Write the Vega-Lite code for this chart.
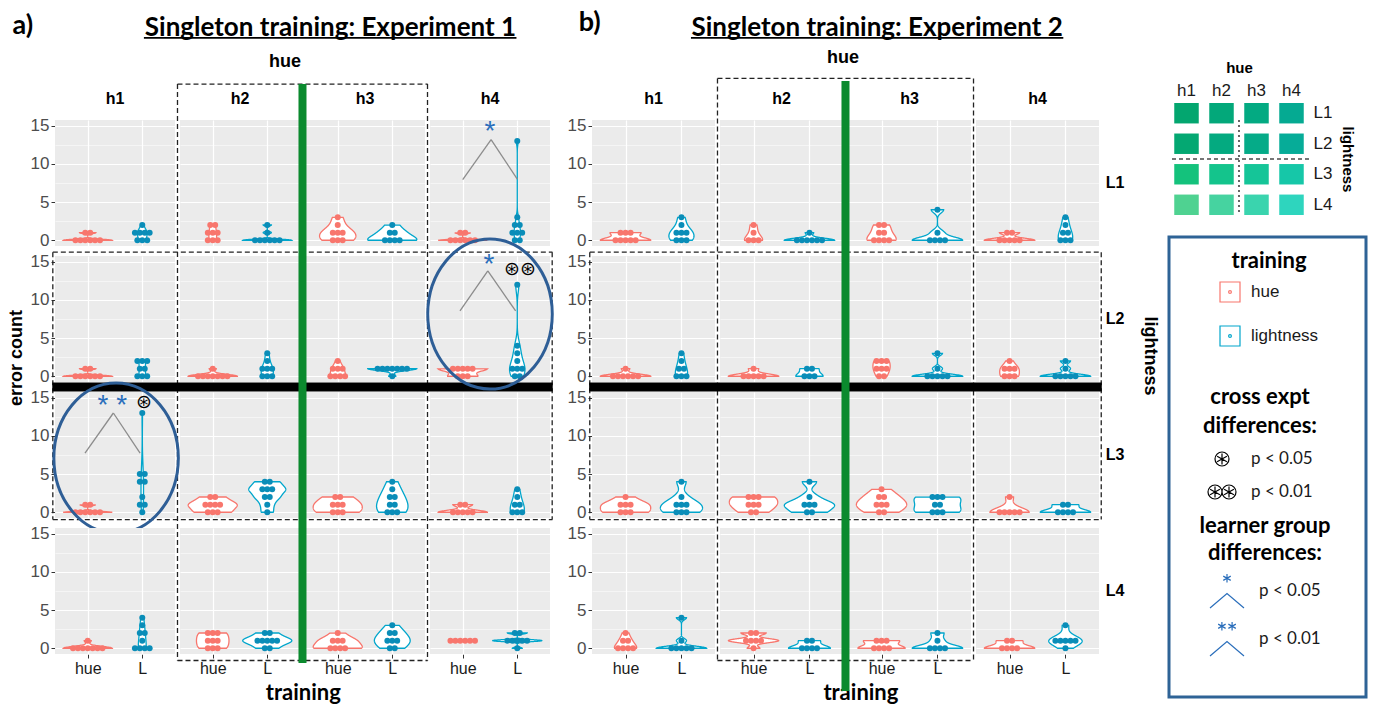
{
"$schema":"https://vega.github.io/schema/vega-lite/v6.json",
"background":"white",
"padding":{"left":7,"top":9,"right":0,"bottom":0},
"datasets":{"all":[
{"e":1,"h":"h1","l":"L1","t":"hue","v":0},{"e":1,"h":"h1","l":"L1","t":"hue","v":0},{"e":1,"h":"h1","l":"L1","t":"hue","v":0},{"e":1,"h":"h1","l":"L1","t":"hue","v":0},{"e":1,"h":"h1","l":"L1","t":"hue","v":0},{"e":1,"h":"h1","l":"L1","t":"hue","v":0},{"e":1,"h":"h1","l":"L1","t":"hue","v":1},{"e":1,"h":"h1","l":"L1","t":"hue","v":1},
{"e":1,"h":"h1","l":"L1","t":"L","v":0},{"e":1,"h":"h1","l":"L1","t":"L","v":0},{"e":1,"h":"h1","l":"L1","t":"L","v":0},{"e":1,"h":"h1","l":"L1","t":"L","v":1},{"e":1,"h":"h1","l":"L1","t":"L","v":1},{"e":1,"h":"h1","l":"L1","t":"L","v":1},{"e":1,"h":"h1","l":"L1","t":"L","v":1},{"e":1,"h":"h1","l":"L1","t":"L","v":2},
{"e":1,"h":"h2","l":"L1","t":"hue","v":0},{"e":1,"h":"h2","l":"L1","t":"hue","v":0},{"e":1,"h":"h2","l":"L1","t":"hue","v":0},{"e":1,"h":"h2","l":"L1","t":"hue","v":1},{"e":1,"h":"h2","l":"L1","t":"hue","v":1},{"e":1,"h":"h2","l":"L1","t":"hue","v":1},{"e":1,"h":"h2","l":"L1","t":"hue","v":2},{"e":1,"h":"h2","l":"L1","t":"hue","v":2},
{"e":1,"h":"h2","l":"L1","t":"L","v":0},{"e":1,"h":"h2","l":"L1","t":"L","v":0},{"e":1,"h":"h2","l":"L1","t":"L","v":0},{"e":1,"h":"h2","l":"L1","t":"L","v":0},{"e":1,"h":"h2","l":"L1","t":"L","v":0},{"e":1,"h":"h2","l":"L1","t":"L","v":0},{"e":1,"h":"h2","l":"L1","t":"L","v":1},{"e":1,"h":"h2","l":"L1","t":"L","v":2},
{"e":1,"h":"h3","l":"L1","t":"hue","v":0},{"e":1,"h":"h3","l":"L1","t":"hue","v":0},{"e":1,"h":"h3","l":"L1","t":"hue","v":0},{"e":1,"h":"h3","l":"L1","t":"hue","v":1},{"e":1,"h":"h3","l":"L1","t":"hue","v":1},{"e":1,"h":"h3","l":"L1","t":"hue","v":1},{"e":1,"h":"h3","l":"L1","t":"hue","v":2},{"e":1,"h":"h3","l":"L1","t":"hue","v":3},
{"e":1,"h":"h3","l":"L1","t":"L","v":0},{"e":1,"h":"h3","l":"L1","t":"L","v":0},{"e":1,"h":"h3","l":"L1","t":"L","v":0},{"e":1,"h":"h3","l":"L1","t":"L","v":0},{"e":1,"h":"h3","l":"L1","t":"L","v":1},{"e":1,"h":"h3","l":"L1","t":"L","v":1},{"e":1,"h":"h3","l":"L1","t":"L","v":2},
{"e":1,"h":"h4","l":"L1","t":"hue","v":0},{"e":1,"h":"h4","l":"L1","t":"hue","v":0},{"e":1,"h":"h4","l":"L1","t":"hue","v":0},{"e":1,"h":"h4","l":"L1","t":"hue","v":0},{"e":1,"h":"h4","l":"L1","t":"hue","v":0},{"e":1,"h":"h4","l":"L1","t":"hue","v":0},{"e":1,"h":"h4","l":"L1","t":"hue","v":1},{"e":1,"h":"h4","l":"L1","t":"hue","v":1},
{"e":1,"h":"h4","l":"L1","t":"L","v":0},{"e":1,"h":"h4","l":"L1","t":"L","v":0},{"e":1,"h":"h4","l":"L1","t":"L","v":1},{"e":1,"h":"h4","l":"L1","t":"L","v":1},{"e":1,"h":"h4","l":"L1","t":"L","v":1},{"e":1,"h":"h4","l":"L1","t":"L","v":2},{"e":1,"h":"h4","l":"L1","t":"L","v":2},{"e":1,"h":"h4","l":"L1","t":"L","v":3},{"e":1,"h":"h4","l":"L1","t":"L","v":13},
{"e":1,"h":"h1","l":"L2","t":"hue","v":0},{"e":1,"h":"h1","l":"L2","t":"hue","v":0},{"e":1,"h":"h1","l":"L2","t":"hue","v":0},{"e":1,"h":"h1","l":"L2","t":"hue","v":0},{"e":1,"h":"h1","l":"L2","t":"hue","v":0},{"e":1,"h":"h1","l":"L2","t":"hue","v":0},{"e":1,"h":"h1","l":"L2","t":"hue","v":1},{"e":1,"h":"h1","l":"L2","t":"hue","v":1},
{"e":1,"h":"h1","l":"L2","t":"L","v":0},{"e":1,"h":"h1","l":"L2","t":"L","v":0},{"e":1,"h":"h1","l":"L2","t":"L","v":0},{"e":1,"h":"h1","l":"L2","t":"L","v":1},{"e":1,"h":"h1","l":"L2","t":"L","v":1},{"e":1,"h":"h1","l":"L2","t":"L","v":2},{"e":1,"h":"h1","l":"L2","t":"L","v":2},{"e":1,"h":"h1","l":"L2","t":"L","v":2},
{"e":1,"h":"h2","l":"L2","t":"hue","v":0},{"e":1,"h":"h2","l":"L2","t":"hue","v":0},{"e":1,"h":"h2","l":"L2","t":"hue","v":0},{"e":1,"h":"h2","l":"L2","t":"hue","v":0},{"e":1,"h":"h2","l":"L2","t":"hue","v":0},{"e":1,"h":"h2","l":"L2","t":"hue","v":0},{"e":1,"h":"h2","l":"L2","t":"hue","v":0},{"e":1,"h":"h2","l":"L2","t":"hue","v":1},
{"e":1,"h":"h2","l":"L2","t":"L","v":0},{"e":1,"h":"h2","l":"L2","t":"L","v":0},{"e":1,"h":"h2","l":"L2","t":"L","v":0},{"e":1,"h":"h2","l":"L2","t":"L","v":1},{"e":1,"h":"h2","l":"L2","t":"L","v":1},{"e":1,"h":"h2","l":"L2","t":"L","v":1},{"e":1,"h":"h2","l":"L2","t":"L","v":2},{"e":1,"h":"h2","l":"L2","t":"L","v":3},
{"e":1,"h":"h3","l":"L2","t":"hue","v":0},{"e":1,"h":"h3","l":"L2","t":"hue","v":0},{"e":1,"h":"h3","l":"L2","t":"hue","v":0},{"e":1,"h":"h3","l":"L2","t":"hue","v":0},{"e":1,"h":"h3","l":"L2","t":"hue","v":1},{"e":1,"h":"h3","l":"L2","t":"hue","v":1},{"e":1,"h":"h3","l":"L2","t":"hue","v":1},{"e":1,"h":"h3","l":"L2","t":"hue","v":2},
{"e":1,"h":"h3","l":"L2","t":"L","v":0},{"e":1,"h":"h3","l":"L2","t":"L","v":1},{"e":1,"h":"h3","l":"L2","t":"L","v":1},{"e":1,"h":"h3","l":"L2","t":"L","v":1},{"e":1,"h":"h3","l":"L2","t":"L","v":1},{"e":1,"h":"h3","l":"L2","t":"L","v":1},{"e":1,"h":"h3","l":"L2","t":"L","v":1},{"e":1,"h":"h3","l":"L2","t":"L","v":1},
{"e":1,"h":"h4","l":"L2","t":"hue","v":0},{"e":1,"h":"h4","l":"L2","t":"hue","v":0},{"e":1,"h":"h4","l":"L2","t":"hue","v":0},{"e":1,"h":"h4","l":"L2","t":"hue","v":1},{"e":1,"h":"h4","l":"L2","t":"hue","v":1},{"e":1,"h":"h4","l":"L2","t":"hue","v":1},{"e":1,"h":"h4","l":"L2","t":"hue","v":1},{"e":1,"h":"h4","l":"L2","t":"hue","v":1},
{"e":1,"h":"h4","l":"L2","t":"L","v":0},{"e":1,"h":"h4","l":"L2","t":"L","v":0},{"e":1,"h":"h4","l":"L2","t":"L","v":1},{"e":1,"h":"h4","l":"L2","t":"L","v":1},{"e":1,"h":"h4","l":"L2","t":"L","v":1},{"e":1,"h":"h4","l":"L2","t":"L","v":2},{"e":1,"h":"h4","l":"L2","t":"L","v":3},{"e":1,"h":"h4","l":"L2","t":"L","v":4},{"e":1,"h":"h4","l":"L2","t":"L","v":12},
{"e":1,"h":"h1","l":"L3","t":"hue","v":0},{"e":1,"h":"h1","l":"L3","t":"hue","v":0},{"e":1,"h":"h1","l":"L3","t":"hue","v":0},{"e":1,"h":"h1","l":"L3","t":"hue","v":0},{"e":1,"h":"h1","l":"L3","t":"hue","v":0},{"e":1,"h":"h1","l":"L3","t":"hue","v":0},{"e":1,"h":"h1","l":"L3","t":"hue","v":1},{"e":1,"h":"h1","l":"L3","t":"hue","v":1},
{"e":1,"h":"h1","l":"L3","t":"L","v":0},{"e":1,"h":"h1","l":"L3","t":"L","v":1},{"e":1,"h":"h1","l":"L3","t":"L","v":1},{"e":1,"h":"h1","l":"L3","t":"L","v":2},{"e":1,"h":"h1","l":"L3","t":"L","v":4},{"e":1,"h":"h1","l":"L3","t":"L","v":4},{"e":1,"h":"h1","l":"L3","t":"L","v":5},{"e":1,"h":"h1","l":"L3","t":"L","v":5},{"e":1,"h":"h1","l":"L3","t":"L","v":13},
{"e":1,"h":"h2","l":"L3","t":"hue","v":0},{"e":1,"h":"h2","l":"L3","t":"hue","v":0},{"e":1,"h":"h2","l":"L3","t":"hue","v":0},{"e":1,"h":"h2","l":"L3","t":"hue","v":1},{"e":1,"h":"h2","l":"L3","t":"hue","v":1},{"e":1,"h":"h2","l":"L3","t":"hue","v":1},{"e":1,"h":"h2","l":"L3","t":"hue","v":1},{"e":1,"h":"h2","l":"L3","t":"hue","v":2},{"e":1,"h":"h2","l":"L3","t":"hue","v":2},
{"e":1,"h":"h2","l":"L3","t":"L","v":0},{"e":1,"h":"h2","l":"L3","t":"L","v":1},{"e":1,"h":"h2","l":"L3","t":"L","v":2},{"e":1,"h":"h2","l":"L3","t":"L","v":2},{"e":1,"h":"h2","l":"L3","t":"L","v":3},{"e":1,"h":"h2","l":"L3","t":"L","v":3},{"e":1,"h":"h2","l":"L3","t":"L","v":3},{"e":1,"h":"h2","l":"L3","t":"L","v":4},{"e":1,"h":"h2","l":"L3","t":"L","v":4},
{"e":1,"h":"h3","l":"L3","t":"hue","v":0},{"e":1,"h":"h3","l":"L3","t":"hue","v":0},{"e":1,"h":"h3","l":"L3","t":"hue","v":0},{"e":1,"h":"h3","l":"L3","t":"hue","v":1},{"e":1,"h":"h3","l":"L3","t":"hue","v":1},{"e":1,"h":"h3","l":"L3","t":"hue","v":1},{"e":1,"h":"h3","l":"L3","t":"hue","v":2},{"e":1,"h":"h3","l":"L3","t":"hue","v":2},
{"e":1,"h":"h3","l":"L3","t":"L","v":0},{"e":1,"h":"h3","l":"L3","t":"L","v":0},{"e":1,"h":"h3","l":"L3","t":"L","v":0},{"e":1,"h":"h3","l":"L3","t":"L","v":1},{"e":1,"h":"h3","l":"L3","t":"L","v":1},{"e":1,"h":"h3","l":"L3","t":"L","v":2},{"e":1,"h":"h3","l":"L3","t":"L","v":2},{"e":1,"h":"h3","l":"L3","t":"L","v":3},{"e":1,"h":"h3","l":"L3","t":"L","v":4},
{"e":1,"h":"h4","l":"L3","t":"hue","v":0},{"e":1,"h":"h4","l":"L3","t":"hue","v":0},{"e":1,"h":"h4","l":"L3","t":"hue","v":0},{"e":1,"h":"h4","l":"L3","t":"hue","v":0},{"e":1,"h":"h4","l":"L3","t":"hue","v":0},{"e":1,"h":"h4","l":"L3","t":"hue","v":1},{"e":1,"h":"h4","l":"L3","t":"hue","v":1},
{"e":1,"h":"h4","l":"L3","t":"L","v":0},{"e":1,"h":"h4","l":"L3","t":"L","v":0},{"e":1,"h":"h4","l":"L3","t":"L","v":0},{"e":1,"h":"h4","l":"L3","t":"L","v":1},{"e":1,"h":"h4","l":"L3","t":"L","v":1},{"e":1,"h":"h4","l":"L3","t":"L","v":2},{"e":1,"h":"h4","l":"L3","t":"L","v":3},
{"e":1,"h":"h1","l":"L4","t":"hue","v":0},{"e":1,"h":"h1","l":"L4","t":"hue","v":0},{"e":1,"h":"h1","l":"L4","t":"hue","v":0},{"e":1,"h":"h1","l":"L4","t":"hue","v":0},{"e":1,"h":"h1","l":"L4","t":"hue","v":0},{"e":1,"h":"h1","l":"L4","t":"hue","v":0},{"e":1,"h":"h1","l":"L4","t":"hue","v":0},{"e":1,"h":"h1","l":"L4","t":"hue","v":1},
{"e":1,"h":"h1","l":"L4","t":"L","v":0},{"e":1,"h":"h1","l":"L4","t":"L","v":0},{"e":1,"h":"h1","l":"L4","t":"L","v":0},{"e":1,"h":"h1","l":"L4","t":"L","v":0},{"e":1,"h":"h1","l":"L4","t":"L","v":1},{"e":1,"h":"h1","l":"L4","t":"L","v":2},{"e":1,"h":"h1","l":"L4","t":"L","v":2},{"e":1,"h":"h1","l":"L4","t":"L","v":3},{"e":1,"h":"h1","l":"L4","t":"L","v":4},
{"e":1,"h":"h2","l":"L4","t":"hue","v":0},{"e":1,"h":"h2","l":"L4","t":"hue","v":0},{"e":1,"h":"h2","l":"L4","t":"hue","v":0},{"e":1,"h":"h2","l":"L4","t":"hue","v":1},{"e":1,"h":"h2","l":"L4","t":"hue","v":1},{"e":1,"h":"h2","l":"L4","t":"hue","v":1},{"e":1,"h":"h2","l":"L4","t":"hue","v":2},{"e":1,"h":"h2","l":"L4","t":"hue","v":2},{"e":1,"h":"h2","l":"L4","t":"hue","v":2},
{"e":1,"h":"h2","l":"L4","t":"L","v":0},{"e":1,"h":"h2","l":"L4","t":"L","v":0},{"e":1,"h":"h2","l":"L4","t":"L","v":1},{"e":1,"h":"h2","l":"L4","t":"L","v":1},{"e":1,"h":"h2","l":"L4","t":"L","v":1},{"e":1,"h":"h2","l":"L4","t":"L","v":1},{"e":1,"h":"h2","l":"L4","t":"L","v":1},{"e":1,"h":"h2","l":"L4","t":"L","v":2},{"e":1,"h":"h2","l":"L4","t":"L","v":2},
{"e":1,"h":"h3","l":"L4","t":"hue","v":0},{"e":1,"h":"h3","l":"L4","t":"hue","v":0},{"e":1,"h":"h3","l":"L4","t":"hue","v":0},{"e":1,"h":"h3","l":"L4","t":"hue","v":0},{"e":1,"h":"h3","l":"L4","t":"hue","v":1},{"e":1,"h":"h3","l":"L4","t":"hue","v":1},{"e":1,"h":"h3","l":"L4","t":"hue","v":1},{"e":1,"h":"h3","l":"L4","t":"hue","v":2},
{"e":1,"h":"h3","l":"L4","t":"L","v":0},{"e":1,"h":"h3","l":"L4","t":"L","v":0},{"e":1,"h":"h3","l":"L4","t":"L","v":1},{"e":1,"h":"h3","l":"L4","t":"L","v":1},{"e":1,"h":"h3","l":"L4","t":"L","v":1},{"e":1,"h":"h3","l":"L4","t":"L","v":2},{"e":1,"h":"h3","l":"L4","t":"L","v":2},{"e":1,"h":"h3","l":"L4","t":"L","v":3},
{"e":1,"h":"h4","l":"L4","t":"hue","v":1},{"e":1,"h":"h4","l":"L4","t":"hue","v":1},{"e":1,"h":"h4","l":"L4","t":"hue","v":1},{"e":1,"h":"h4","l":"L4","t":"hue","v":1},{"e":1,"h":"h4","l":"L4","t":"hue","v":1},{"e":1,"h":"h4","l":"L4","t":"hue","v":1},
{"e":1,"h":"h4","l":"L4","t":"L","v":0},{"e":1,"h":"h4","l":"L4","t":"L","v":1},{"e":1,"h":"h4","l":"L4","t":"L","v":1},{"e":1,"h":"h4","l":"L4","t":"L","v":1},{"e":1,"h":"h4","l":"L4","t":"L","v":1},{"e":1,"h":"h4","l":"L4","t":"L","v":1},{"e":1,"h":"h4","l":"L4","t":"L","v":2},{"e":1,"h":"h4","l":"L4","t":"L","v":2},
{"e":2,"h":"h1","l":"L1","t":"hue","v":0},{"e":2,"h":"h1","l":"L1","t":"hue","v":0},{"e":2,"h":"h1","l":"L1","t":"hue","v":0},{"e":2,"h":"h1","l":"L1","t":"hue","v":0},{"e":2,"h":"h1","l":"L1","t":"hue","v":0},{"e":2,"h":"h1","l":"L1","t":"hue","v":1},{"e":2,"h":"h1","l":"L1","t":"hue","v":1},{"e":2,"h":"h1","l":"L1","t":"hue","v":1},
{"e":2,"h":"h1","l":"L1","t":"L","v":0},{"e":2,"h":"h1","l":"L1","t":"L","v":0},{"e":2,"h":"h1","l":"L1","t":"L","v":0},{"e":2,"h":"h1","l":"L1","t":"L","v":1},{"e":2,"h":"h1","l":"L1","t":"L","v":1},{"e":2,"h":"h1","l":"L1","t":"L","v":1},{"e":2,"h":"h1","l":"L1","t":"L","v":2},{"e":2,"h":"h1","l":"L1","t":"L","v":3},
{"e":2,"h":"h2","l":"L1","t":"hue","v":0},{"e":2,"h":"h2","l":"L1","t":"hue","v":0},{"e":2,"h":"h2","l":"L1","t":"hue","v":0},{"e":2,"h":"h2","l":"L1","t":"hue","v":1},{"e":2,"h":"h2","l":"L1","t":"hue","v":2},
{"e":2,"h":"h2","l":"L1","t":"L","v":0},{"e":2,"h":"h2","l":"L1","t":"L","v":0},{"e":2,"h":"h2","l":"L1","t":"L","v":0},{"e":2,"h":"h2","l":"L1","t":"L","v":0},{"e":2,"h":"h2","l":"L1","t":"L","v":0},{"e":2,"h":"h2","l":"L1","t":"L","v":0},{"e":2,"h":"h2","l":"L1","t":"L","v":1},
{"e":2,"h":"h3","l":"L1","t":"hue","v":0},{"e":2,"h":"h3","l":"L1","t":"hue","v":0},{"e":2,"h":"h3","l":"L1","t":"hue","v":0},{"e":2,"h":"h3","l":"L1","t":"hue","v":0},{"e":2,"h":"h3","l":"L1","t":"hue","v":1},{"e":2,"h":"h3","l":"L1","t":"hue","v":1},{"e":2,"h":"h3","l":"L1","t":"hue","v":2},{"e":2,"h":"h3","l":"L1","t":"hue","v":2},
{"e":2,"h":"h3","l":"L1","t":"L","v":0},{"e":2,"h":"h3","l":"L1","t":"L","v":0},{"e":2,"h":"h3","l":"L1","t":"L","v":0},{"e":2,"h":"h3","l":"L1","t":"L","v":0},{"e":2,"h":"h3","l":"L1","t":"L","v":1},{"e":2,"h":"h3","l":"L1","t":"L","v":4},
{"e":2,"h":"h4","l":"L1","t":"hue","v":0},{"e":2,"h":"h4","l":"L1","t":"hue","v":0},{"e":2,"h":"h4","l":"L1","t":"hue","v":0},{"e":2,"h":"h4","l":"L1","t":"hue","v":0},{"e":2,"h":"h4","l":"L1","t":"hue","v":0},{"e":2,"h":"h4","l":"L1","t":"hue","v":1},{"e":2,"h":"h4","l":"L1","t":"hue","v":1},
{"e":2,"h":"h4","l":"L1","t":"L","v":0},{"e":2,"h":"h4","l":"L1","t":"L","v":0},{"e":2,"h":"h4","l":"L1","t":"L","v":0},{"e":2,"h":"h4","l":"L1","t":"L","v":1},{"e":2,"h":"h4","l":"L1","t":"L","v":1},{"e":2,"h":"h4","l":"L1","t":"L","v":2},{"e":2,"h":"h4","l":"L1","t":"L","v":3},
{"e":2,"h":"h1","l":"L2","t":"hue","v":0},{"e":2,"h":"h1","l":"L2","t":"hue","v":0},{"e":2,"h":"h1","l":"L2","t":"hue","v":0},{"e":2,"h":"h1","l":"L2","t":"hue","v":0},{"e":2,"h":"h1","l":"L2","t":"hue","v":0},{"e":2,"h":"h1","l":"L2","t":"hue","v":0},{"e":2,"h":"h1","l":"L2","t":"hue","v":1},
{"e":2,"h":"h1","l":"L2","t":"L","v":0},{"e":2,"h":"h1","l":"L2","t":"L","v":0},{"e":2,"h":"h1","l":"L2","t":"L","v":0},{"e":2,"h":"h1","l":"L2","t":"L","v":1},{"e":2,"h":"h1","l":"L2","t":"L","v":1},{"e":2,"h":"h1","l":"L2","t":"L","v":2},{"e":2,"h":"h1","l":"L2","t":"L","v":3},
{"e":2,"h":"h2","l":"L2","t":"hue","v":0},{"e":2,"h":"h2","l":"L2","t":"hue","v":0},{"e":2,"h":"h2","l":"L2","t":"hue","v":0},{"e":2,"h":"h2","l":"L2","t":"hue","v":0},{"e":2,"h":"h2","l":"L2","t":"hue","v":0},{"e":2,"h":"h2","l":"L2","t":"hue","v":1},
{"e":2,"h":"h2","l":"L2","t":"L","v":0},{"e":2,"h":"h2","l":"L2","t":"L","v":0},{"e":2,"h":"h2","l":"L2","t":"L","v":0},{"e":2,"h":"h2","l":"L2","t":"L","v":1},{"e":2,"h":"h2","l":"L2","t":"L","v":1},
{"e":2,"h":"h3","l":"L2","t":"hue","v":0},{"e":2,"h":"h3","l":"L2","t":"hue","v":0},{"e":2,"h":"h3","l":"L2","t":"hue","v":1},{"e":2,"h":"h3","l":"L2","t":"hue","v":1},{"e":2,"h":"h3","l":"L2","t":"hue","v":1},{"e":2,"h":"h3","l":"L2","t":"hue","v":2},{"e":2,"h":"h3","l":"L2","t":"hue","v":2},{"e":2,"h":"h3","l":"L2","t":"hue","v":2},
{"e":2,"h":"h3","l":"L2","t":"L","v":0},{"e":2,"h":"h3","l":"L2","t":"L","v":0},{"e":2,"h":"h3","l":"L2","t":"L","v":0},{"e":2,"h":"h3","l":"L2","t":"L","v":0},{"e":2,"h":"h3","l":"L2","t":"L","v":0},{"e":2,"h":"h3","l":"L2","t":"L","v":1},{"e":2,"h":"h3","l":"L2","t":"L","v":3},
{"e":2,"h":"h4","l":"L2","t":"hue","v":0},{"e":2,"h":"h4","l":"L2","t":"hue","v":0},{"e":2,"h":"h4","l":"L2","t":"hue","v":0},{"e":2,"h":"h4","l":"L2","t":"hue","v":1},{"e":2,"h":"h4","l":"L2","t":"hue","v":1},{"e":2,"h":"h4","l":"L2","t":"hue","v":1},{"e":2,"h":"h4","l":"L2","t":"hue","v":2},
{"e":2,"h":"h4","l":"L2","t":"L","v":0},{"e":2,"h":"h4","l":"L2","t":"L","v":0},{"e":2,"h":"h4","l":"L2","t":"L","v":0},{"e":2,"h":"h4","l":"L2","t":"L","v":0},{"e":2,"h":"h4","l":"L2","t":"L","v":0},{"e":2,"h":"h4","l":"L2","t":"L","v":1},{"e":2,"h":"h4","l":"L2","t":"L","v":2},
{"e":2,"h":"h1","l":"L3","t":"hue","v":0},{"e":2,"h":"h1","l":"L3","t":"hue","v":0},{"e":2,"h":"h1","l":"L3","t":"hue","v":0},{"e":2,"h":"h1","l":"L3","t":"hue","v":1},{"e":2,"h":"h1","l":"L3","t":"hue","v":1},{"e":2,"h":"h1","l":"L3","t":"hue","v":1},{"e":2,"h":"h1","l":"L3","t":"hue","v":2},
{"e":2,"h":"h1","l":"L3","t":"L","v":0},{"e":2,"h":"h1","l":"L3","t":"L","v":0},{"e":2,"h":"h1","l":"L3","t":"L","v":0},{"e":2,"h":"h1","l":"L3","t":"L","v":1},{"e":2,"h":"h1","l":"L3","t":"L","v":1},{"e":2,"h":"h1","l":"L3","t":"L","v":1},{"e":2,"h":"h1","l":"L3","t":"L","v":2},{"e":2,"h":"h1","l":"L3","t":"L","v":4},
{"e":2,"h":"h2","l":"L3","t":"hue","v":0},{"e":2,"h":"h2","l":"L3","t":"hue","v":0},{"e":2,"h":"h2","l":"L3","t":"hue","v":1},{"e":2,"h":"h2","l":"L3","t":"hue","v":1},{"e":2,"h":"h2","l":"L3","t":"hue","v":1},{"e":2,"h":"h2","l":"L3","t":"hue","v":2},{"e":2,"h":"h2","l":"L3","t":"hue","v":2},{"e":2,"h":"h2","l":"L3","t":"hue","v":2},
{"e":2,"h":"h2","l":"L3","t":"L","v":0},{"e":2,"h":"h2","l":"L3","t":"L","v":0},{"e":2,"h":"h2","l":"L3","t":"L","v":1},{"e":2,"h":"h2","l":"L3","t":"L","v":1},{"e":2,"h":"h2","l":"L3","t":"L","v":1},{"e":2,"h":"h2","l":"L3","t":"L","v":2},{"e":2,"h":"h2","l":"L3","t":"L","v":4},
{"e":2,"h":"h3","l":"L3","t":"hue","v":0},{"e":2,"h":"h3","l":"L3","t":"hue","v":0},{"e":2,"h":"h3","l":"L3","t":"hue","v":1},{"e":2,"h":"h3","l":"L3","t":"hue","v":1},{"e":2,"h":"h3","l":"L3","t":"hue","v":1},{"e":2,"h":"h3","l":"L3","t":"hue","v":2},{"e":2,"h":"h3","l":"L3","t":"hue","v":2},{"e":2,"h":"h3","l":"L3","t":"hue","v":3},
{"e":2,"h":"h3","l":"L3","t":"L","v":0},{"e":2,"h":"h3","l":"L3","t":"L","v":0},{"e":2,"h":"h3","l":"L3","t":"L","v":0},{"e":2,"h":"h3","l":"L3","t":"L","v":1},{"e":2,"h":"h3","l":"L3","t":"L","v":1},{"e":2,"h":"h3","l":"L3","t":"L","v":2},{"e":2,"h":"h3","l":"L3","t":"L","v":2},{"e":2,"h":"h3","l":"L3","t":"L","v":2},
{"e":2,"h":"h4","l":"L3","t":"hue","v":0},{"e":2,"h":"h4","l":"L3","t":"hue","v":0},{"e":2,"h":"h4","l":"L3","t":"hue","v":0},{"e":2,"h":"h4","l":"L3","t":"hue","v":0},{"e":2,"h":"h4","l":"L3","t":"hue","v":0},{"e":2,"h":"h4","l":"L3","t":"hue","v":2},
{"e":2,"h":"h4","l":"L3","t":"L","v":0},{"e":2,"h":"h4","l":"L3","t":"L","v":0},{"e":2,"h":"h4","l":"L3","t":"L","v":0},{"e":2,"h":"h4","l":"L3","t":"L","v":0},{"e":2,"h":"h4","l":"L3","t":"L","v":1},{"e":2,"h":"h4","l":"L3","t":"L","v":1},
{"e":2,"h":"h1","l":"L4","t":"hue","v":0},{"e":2,"h":"h1","l":"L4","t":"hue","v":0},{"e":2,"h":"h1","l":"L4","t":"hue","v":0},{"e":2,"h":"h1","l":"L4","t":"hue","v":0},{"e":2,"h":"h1","l":"L4","t":"hue","v":1},{"e":2,"h":"h1","l":"L4","t":"hue","v":1},{"e":2,"h":"h1","l":"L4","t":"hue","v":2},
{"e":2,"h":"h1","l":"L4","t":"L","v":0},{"e":2,"h":"h1","l":"L4","t":"L","v":0},{"e":2,"h":"h1","l":"L4","t":"L","v":0},{"e":2,"h":"h1","l":"L4","t":"L","v":0},{"e":2,"h":"h1","l":"L4","t":"L","v":0},{"e":2,"h":"h1","l":"L4","t":"L","v":1},{"e":2,"h":"h1","l":"L4","t":"L","v":4},
{"e":2,"h":"h2","l":"L4","t":"hue","v":0},{"e":2,"h":"h2","l":"L4","t":"hue","v":1},{"e":2,"h":"h2","l":"L4","t":"hue","v":1},{"e":2,"h":"h2","l":"L4","t":"hue","v":1},{"e":2,"h":"h2","l":"L4","t":"hue","v":1},{"e":2,"h":"h2","l":"L4","t":"hue","v":2},{"e":2,"h":"h2","l":"L4","t":"hue","v":2},
{"e":2,"h":"h2","l":"L4","t":"L","v":0},{"e":2,"h":"h2","l":"L4","t":"L","v":0},{"e":2,"h":"h2","l":"L4","t":"L","v":0},{"e":2,"h":"h2","l":"L4","t":"L","v":0},{"e":2,"h":"h2","l":"L4","t":"L","v":1},{"e":2,"h":"h2","l":"L4","t":"L","v":1},
{"e":2,"h":"h3","l":"L4","t":"hue","v":0},{"e":2,"h":"h3","l":"L4","t":"hue","v":0},{"e":2,"h":"h3","l":"L4","t":"hue","v":0},{"e":2,"h":"h3","l":"L4","t":"hue","v":0},{"e":2,"h":"h3","l":"L4","t":"hue","v":1},{"e":2,"h":"h3","l":"L4","t":"hue","v":1},{"e":2,"h":"h3","l":"L4","t":"hue","v":1},
{"e":2,"h":"h3","l":"L4","t":"L","v":0},{"e":2,"h":"h3","l":"L4","t":"L","v":0},{"e":2,"h":"h3","l":"L4","t":"L","v":0},{"e":2,"h":"h3","l":"L4","t":"L","v":0},{"e":2,"h":"h3","l":"L4","t":"L","v":1},{"e":2,"h":"h3","l":"L4","t":"L","v":2},
{"e":2,"h":"h4","l":"L4","t":"hue","v":0},{"e":2,"h":"h4","l":"L4","t":"hue","v":0},{"e":2,"h":"h4","l":"L4","t":"hue","v":0},{"e":2,"h":"h4","l":"L4","t":"hue","v":0},{"e":2,"h":"h4","l":"L4","t":"hue","v":1},{"e":2,"h":"h4","l":"L4","t":"hue","v":1},
{"e":2,"h":"h4","l":"L4","t":"L","v":0},{"e":2,"h":"h4","l":"L4","t":"L","v":1},{"e":2,"h":"h4","l":"L4","t":"L","v":1},{"e":2,"h":"h4","l":"L4","t":"L","v":1},{"e":2,"h":"h4","l":"L4","t":"L","v":1},{"e":2,"h":"h4","l":"L4","t":"L","v":1},{"e":2,"h":"h4","l":"L4","t":"L","v":3},
{"k":"T","e":1,"h":"h1","l":"L1","x1":5.45,"v":27.8,"txt":"Singleton training: Experiment 1"},
{"k":"u","e":1,"h":"h1","l":"L1","x1":2.03,"x2":8.86,"v":26.5,"v2":26.5},
{"k":"a","e":1,"h":"h1","l":"L1","x1":-0.19,"v":28.06,"txt":"a)"},
{"k":"x","e":1,"h":"h2","l":"L4","x1":2.66,"v":-5.85,"txt":"training"},
{"k":"g","e":1,"h":"h3","l":"L1","x1":0.354,"x2":0.354,"v":20.46,"v2":-0.75},
{"k":"g","e":1,"h":"h3","l":"L2","x1":0.354,"x2":0.354,"v":17.06,"v2":-0.75},
{"k":"g","e":1,"h":"h3","l":"L3","x1":0.354,"x2":0.354,"v":17.06,"v2":-0.75},
{"k":"g","e":1,"h":"h3","l":"L4","x1":0.354,"x2":0.354,"v":17.06,"v2":-1.93},
{"k":"b","e":1,"h":"h4","l":"L2","x1":-6.525,"x2":2.65,"v":-1.4,"v2":-1.4},
{"k":"d","e":1,"h":"h2","l":"L1","x1":0.354,"x2":0.354,"v":20.46,"v2":-55.03},
{"k":"d","e":1,"h":"h3","l":"L1","x1":2.646,"x2":2.646,"v":20.46,"v2":-55.03},
{"k":"d","e":1,"h":"h2","l":"L1","x1":0.354,"x2":4.94,"v":20.46,"v2":20.46},
{"k":"d","e":1,"h":"h2","l":"L4","x1":0.354,"x2":4.94,"v":-1.6,"v2":-1.6},
{"k":"d","e":1,"h":"h1","l":"L2","x1":0.36,"x2":0.36,"v":16.25,"v2":-18.76},
{"k":"d","e":1,"h":"h4","l":"L2","x1":2.64,"x2":2.64,"v":16.25,"v2":-18.76},
{"k":"d","e":1,"h":"h1","l":"L2","x1":0.36,"x2":9.52,"v":16.25,"v2":16.25},
{"k":"d","e":1,"h":"h1","l":"L3","x1":0.36,"x2":9.52,"v":-0.95,"v2":-0.95},
{"k":"c","e":1,"h":"h4","l":"L1","x1":1.0,"x2":1.52,"v":7.95,"v2":13.18},
{"k":"c","e":1,"h":"h4","l":"L1","x1":1.52,"x2":2.0,"v":13.18,"v2":8.0},
{"k":"c","e":1,"h":"h4","l":"L2","x1":0.95,"x2":1.46,"v":8.55,"v2":13.79},
{"k":"c","e":1,"h":"h4","l":"L2","x1":1.46,"x2":1.97,"v":13.79,"v2":8.55},
{"k":"c","e":1,"h":"h1","l":"L3","x1":0.95,"x2":1.47,"v":7.75,"v2":13.0},
{"k":"c","e":1,"h":"h1","l":"L3","x1":1.47,"x2":1.96,"v":13.0,"v2":7.75},
{"k":"s","e":1,"h":"h4","l":"L1","x1":1.5,"v":13.1,"txt":"*"},
{"k":"s","e":1,"h":"h4","l":"L2","x1":1.48,"v":13.55,"txt":"*"},
{"k":"s","e":1,"h":"h1","l":"L3","x1":1.45,"v":12.9,"txt":"* *"},
{"k":"o","e":1,"h":"h4","l":"L2","x1":2.05,"v":14.05,"txt":"⊛⊛"},
{"k":"o","e":1,"h":"h1","l":"L3","x1":2.03,"v":14.44,"txt":"⊛"},
{"k":"e","e":1,"h":"h4","l":"L2","x1":1.5,"v":8.15},
{"k":"e","e":1,"h":"h1","l":"L3","x1":1.52,"v":7.1},
{"k":"T","e":2,"h":"h1","l":"L1","x1":5.5,"v":27.8,"txt":"Singleton training: Experiment 2"},
{"k":"u","e":2,"h":"h1","l":"L1","x1":2.17,"x2":8.83,"v":26.5,"v2":26.5},
{"k":"a","e":2,"h":"h1","l":"L1","x1":0.36,"v":28.45,"txt":"b)"},
{"k":"x","e":2,"h":"h2","l":"L4","x1":2.92,"v":-5.85,"txt":"training"},
{"k":"g","e":2,"h":"h3","l":"L1","x1":0.355,"x2":0.355,"v":20.86,"v2":-0.75},
{"k":"g","e":2,"h":"h3","l":"L2","x1":0.355,"x2":0.355,"v":17.06,"v2":-0.75},
{"k":"g","e":2,"h":"h3","l":"L3","x1":0.355,"x2":0.355,"v":17.06,"v2":-0.75},
{"k":"g","e":2,"h":"h3","l":"L4","x1":0.355,"x2":0.355,"v":17.06,"v2":-5.6},
{"k":"b","e":2,"h":"h4","l":"L2","x1":-6.52,"x2":2.65,"v":-1.4,"v2":-1.4},
{"k":"d","e":2,"h":"h2","l":"L1","x1":0.355,"x2":0.355,"v":21.2,"v2":-55.03},
{"k":"d","e":2,"h":"h3","l":"L1","x1":2.645,"x2":2.645,"v":21.2,"v2":-55.03},
{"k":"d","e":2,"h":"h2","l":"L1","x1":0.355,"x2":4.93,"v":21.2,"v2":21.2},
{"k":"d","e":2,"h":"h2","l":"L4","x1":0.355,"x2":4.93,"v":-1.6,"v2":-1.6},
{"k":"d","e":2,"h":"h1","l":"L2","x1":0.36,"x2":0.36,"v":16.25,"v2":-18.76},
{"k":"d","e":2,"h":"h4","l":"L2","x1":2.64,"x2":2.64,"v":16.25,"v2":-18.76},
{"k":"d","e":2,"h":"h1","l":"L2","x1":0.36,"x2":9.51,"v":16.25,"v2":16.25},
{"k":"d","e":2,"h":"h1","l":"L3","x1":0.36,"x2":9.51,"v":-0.95,"v2":-0.95}
]},
"hconcat":[
{
"data":{"name":"all"},
"transform":[{"filter":"datum.e==1"}],
"bounds":"flush",
"spacing":{"row":10,"column":5},
"facet":{
"column":{"field":"h","type":"nominal","title":"hue","header":{"labelFontWeight":"bold","labelFontSize":16,"labelColor":"black","labelPadding":13,"titleFontSize":18,"titleFontWeight":"bold","titleColor":"black","titlePadding":10}},
"row":{"field":"l","type":"nominal","title":"error count","header":{"labels":false,"titleFontSize":18,"titleFontWeight":"bold","titleColor":"black","titlePadding":-6}}
},
"spec":{
"width":120,"height":126,
"encoding":{
"x":{"field":"x1","type":"quantitative","scale":{"domain":[0.4,2.6],"nice":false,"zero":false},"axis":{"title":null,"values":[1,2],"labelExpr":"datum.value==1?'hue':'L'","gridWidth":1.2}},
"y":{"field":"v","type":"quantitative","scale":{"domain":[-0.75,15.75],"nice":false,"zero":false},"axis":{"title":null,"values":[0,2.5,5,7.5,10,12.5,15],"labelExpr":"datum.value%5==0?datum.label:''","gridWidth":{"condition":{"test":"datum.value%5==0","value":1.2},"value":0.5},"tickOpacity":{"condition":{"test":"datum.value%5==0","value":1},"value":0}}}
},
"layer":[
{"transform":[{"filter":"!datum.k"},{"joinaggregate":[{"op":"min","field":"v","as":"lo"},{"op":"max","field":"v","as":"hi"}],"groupby":["e","h","l","t"]},{"density":"v","groupby":["e","h","l","t","lo","hi"],"steps":200,"as":["v","dens"]},{"filter":"datum.v>=datum.lo-0.001&&datum.v<=datum.hi+0.001"},{"joinaggregate":[{"op":"max","field":"dens","as":"mx"}],"groupby":["e","h","l"]},{"calculate":"(datum.t=='hue'?1:2)-0.45*datum.dens/datum.mx","as":"x1"},{"calculate":"(datum.t=='hue'?1:2)+0.45*datum.dens/datum.mx","as":"x2"}],
"mark":{"type":"area","orient":"horizontal","fill":"white","fillOpacity":1,"strokeWidth":1.3},
"encoding":{"x2":{"field":"x2"},"stroke":{"field":"t","type":"nominal","scale":{"domain":["hue","L"],"range":["#F8766D","#00A6CC"]},"legend":null}}},
{"transform":[{"filter":"!datum.k"},{"window":[{"op":"row_number","as":"rk"}],"groupby":["e","h","l","t","v"]},{"joinaggregate":[{"op":"count","as":"cn"}],"groupby":["e","h","l","t","v"]},{"calculate":"(datum.t=='hue'?1:2)+(datum.rk-(datum.cn+1)/2)*0.09","as":"x1"}],
"mark":{"type":"circle","size":36,"opacity":1},
"encoding":{"color":{"field":"t","type":"nominal","scale":{"domain":["hue","L"],"range":["#F8766D","#0A8DB8"]},"legend":null}}},
{"transform":[{"filter":"datum.k=='d'"}],"mark":{"type":"rule","stroke":"#222222","strokeWidth":1.3,"strokeDash":[5,3]},"encoding":{"x2":{"field":"x2"},"y2":{"field":"v2"}}},
{"transform":[{"filter":"datum.k=='b'"}],"mark":{"type":"rule","stroke":"black","strokeWidth":9,"strokeCap":"butt"},"encoding":{"x2":{"field":"x2"},"y2":{"field":"v2"}}},
{"transform":[{"filter":"datum.k=='g'"}],"mark":{"type":"rule","stroke":"#0B8A2E","strokeWidth":8,"strokeCap":"butt"},"encoding":{"x2":{"field":"x2"},"y2":{"field":"v2"}}},
{"transform":[{"filter":"datum.k=='c'"}],"mark":{"type":"rule","stroke":"#8C8C8C","strokeWidth":1.3},"encoding":{"x2":{"field":"x2"},"y2":{"field":"v2"}}},
{"transform":[{"filter":"datum.k=='u'"}],"mark":{"type":"rule","stroke":"black","strokeWidth":1.6},"encoding":{"x2":{"field":"x2"},"y2":{"field":"v2"}}},
{"transform":[{"filter":"datum.k=='e'"}],"mark":{"type":"point","shape":"M0.83,0A0.83,1,0,1,1,-0.83,0A0.83,1,0,1,1,0.83,0Z","size":22500,"filled":false,"stroke":"#2E5E96","strokeWidth":3,"opacity":1}},
{"transform":[{"filter":"datum.k=='s'"}],"mark":{"type":"text","font":"Liberation Sans","fontSize":28,"color":"#2A6EBB","align":"center","baseline":"alphabetic"},"encoding":{"text":{"field":"txt"}}},
{"transform":[{"filter":"datum.k=='o'"}],"mark":{"type":"text","font":"DejaVu Sans","fontSize":19,"color":"black","align":"center","baseline":"middle"},"encoding":{"text":{"field":"txt"}}},
{"transform":[{"filter":"datum.k=='T'"}],"mark":{"type":"text","font":"Lato","fontSize":26,"fontWeight":"bold","color":"black","align":"center","baseline":"middle"},"encoding":{"text":{"field":"txt"}}},
{"transform":[{"filter":"datum.k=='x'"}],"mark":{"type":"text","font":"Lato","fontSize":22,"fontWeight":"bold","color":"black","align":"center","baseline":"middle"},"encoding":{"text":{"field":"txt"}}},
{"transform":[{"filter":"datum.k=='a'"}],"mark":{"type":"text","font":"Lato","fontSize":27,"fontWeight":"bold","color":"black","align":"center","baseline":"middle"},"encoding":{"text":{"field":"txt"}}}
]
}
},
{
"data":{"name":"all"},
"transform":[{"filter":"datum.e==2"}],
"bounds":"flush",
"spacing":{"row":10,"column":5},
"facet":{
"column":{"field":"h","type":"nominal","title":"hue","header":{"labelFontWeight":"bold","labelFontSize":16,"labelColor":"black","labelPadding":13,"titleFontSize":18,"titleFontWeight":"bold","titleColor":"black","titlePadding":14}},
"row":{"field":"l","type":"nominal","title":"lightness","header":{"labelOrient":"right","titleOrient":"right","labelAngle":0,"labelAlign":"left","labelFontWeight":"bold","labelFontSize":16,"labelColor":"black","labelPadding":-12,"titleFontSize":18,"titleFontWeight":"bold","titleColor":"black","titleAngle":90,"titlePadding":6}}
},
"spec":{
"width":123,"height":126,
"encoding":{
"x":{"field":"x1","type":"quantitative","scale":{"domain":[0.4,2.6],"nice":false,"zero":false},"axis":{"title":null,"values":[1,2],"labelExpr":"datum.value==1?'hue':'L'","gridWidth":1.2}},
"y":{"field":"v","type":"quantitative","scale":{"domain":[-0.75,15.75],"nice":false,"zero":false},"axis":{"title":null,"values":[0,2.5,5,7.5,10,12.5,15],"labelExpr":"datum.value%5==0?datum.label:''","gridWidth":{"condition":{"test":"datum.value%5==0","value":1.2},"value":0.5},"tickOpacity":{"condition":{"test":"datum.value%5==0","value":1},"value":0}}}
},
"layer":[
{"transform":[{"filter":"!datum.k"},{"joinaggregate":[{"op":"min","field":"v","as":"lo"},{"op":"max","field":"v","as":"hi"}],"groupby":["e","h","l","t"]},{"density":"v","groupby":["e","h","l","t","lo","hi"],"steps":200,"as":["v","dens"]},{"filter":"datum.v>=datum.lo-0.001&&datum.v<=datum.hi+0.001"},{"joinaggregate":[{"op":"max","field":"dens","as":"mx"}],"groupby":["e","h","l"]},{"calculate":"(datum.t=='hue'?1:2)-0.45*datum.dens/datum.mx","as":"x1"},{"calculate":"(datum.t=='hue'?1:2)+0.45*datum.dens/datum.mx","as":"x2"}],
"mark":{"type":"area","orient":"horizontal","fill":"white","fillOpacity":1,"strokeWidth":1.3},
"encoding":{"x2":{"field":"x2"},"stroke":{"field":"t","type":"nominal","scale":{"domain":["hue","L"],"range":["#F8766D","#00A6CC"]},"legend":null}}},
{"transform":[{"filter":"!datum.k"},{"window":[{"op":"row_number","as":"rk"}],"groupby":["e","h","l","t","v"]},{"joinaggregate":[{"op":"count","as":"cn"}],"groupby":["e","h","l","t","v"]},{"calculate":"(datum.t=='hue'?1:2)+(datum.rk-(datum.cn+1)/2)*0.09","as":"x1"}],
"mark":{"type":"circle","size":36,"opacity":1},
"encoding":{"color":{"field":"t","type":"nominal","scale":{"domain":["hue","L"],"range":["#F8766D","#0A8DB8"]},"legend":null}}},
{"transform":[{"filter":"datum.k=='d'"}],"mark":{"type":"rule","stroke":"#222222","strokeWidth":1.3,"strokeDash":[5,3]},"encoding":{"x2":{"field":"x2"},"y2":{"field":"v2"}}},
{"transform":[{"filter":"datum.k=='b'"}],"mark":{"type":"rule","stroke":"black","strokeWidth":9,"strokeCap":"butt"},"encoding":{"x2":{"field":"x2"},"y2":{"field":"v2"}}},
{"transform":[{"filter":"datum.k=='x'"}],"mark":{"type":"text","font":"Lato","fontSize":22,"fontWeight":"bold","color":"black","align":"center","baseline":"middle"},"encoding":{"text":{"field":"txt"}}},
{"transform":[{"filter":"datum.k=='g'"}],"mark":{"type":"rule","stroke":"#0B8A2E","strokeWidth":8,"strokeCap":"butt"},"encoding":{"x2":{"field":"x2"},"y2":{"field":"v2"}}},
{"transform":[{"filter":"datum.k=='u'"}],"mark":{"type":"rule","stroke":"black","strokeWidth":1.6},"encoding":{"x2":{"field":"x2"},"y2":{"field":"v2"}}},
{"transform":[{"filter":"datum.k=='T'"}],"mark":{"type":"text","font":"Lato","fontSize":26,"fontWeight":"bold","color":"black","align":"center","baseline":"middle"},"encoding":{"text":{"field":"txt"}}},
{"transform":[{"filter":"datum.k=='a'"}],"mark":{"type":"text","font":"Lato","fontSize":27,"fontWeight":"bold","color":"black","align":"center","baseline":"middle"},"encoding":{"text":{"field":"txt"}}}
]
}
},
{
"spacing":3,
"vconcat":[
{
"data":{"values":[{"h":"h1","l":"L1","c":"h1L1"},{"h":"h2","l":"L1","c":"h2L1"},{"h":"h3","l":"L1","c":"h3L1"},{"h":"h4","l":"L1","c":"h4L1"},{"h":"h1","l":"L2","c":"h1L2"},{"h":"h2","l":"L2","c":"h2L2"},{"h":"h3","l":"L2","c":"h3L2"},{"h":"h4","l":"L2","c":"h4L2"},{"h":"h1","l":"L3","c":"h1L3"},{"h":"h2","l":"L3","c":"h2L3"},{"h":"h3","l":"L3","c":"h3L3"},{"h":"h4","l":"L3","c":"h4L3"},{"h":"h1","l":"L4","c":"h1L4"},{"h":"h2","l":"L4","c":"h2L4"},{"h":"h3","l":"L4","c":"h3L4"},{"h":"h4","l":"L4","c":"h4L4"}]},
"width":140,"height":95,
"view":{"fill":null,"stroke":null},
"layer":[
{"mark":{"type":"rect"},
"encoding":{
"x":{"field":"h","type":"ordinal","scale":{"paddingInner":0.3,"paddingOuter":0.15},"axis":{"orient":"top","offset":17,"title":"hue","domain":false,"ticks":false,"grid":false,"labelAngle":0,"labelFontSize":17,"labelColor":"#1A1A1A","labelPadding":4,"titleFontSize":15,"titleFontWeight":"bold","titlePadding":6}},
"y":{"field":"l","type":"ordinal","scale":{"range":[-17,95],"paddingInner":0.33,"paddingOuter":0},"axis":{"orient":"right","title":"lightness","domain":false,"ticks":false,"grid":false,"labelFontSize":17,"labelColor":"#1A1A1A","labelPadding":4,"titleFontSize":15,"titleFontWeight":"bold","titleAngle":90,"titlePadding":8}},
"color":{"field":"c","type":"nominal","scale":{"domain":["h1L1","h2L1","h3L1","h4L1","h1L2","h2L2","h3L2","h4L2","h1L3","h2L3","h3L3","h4L3","h1L4","h2L4","h3L4","h4L4"],"range":["#03A66F","#03A87A","#03AA82","#05AA92","#04A872","#04AA80","#05AB88","#06AC98","#14C27C","#14C48C","#15C598","#16C7A8","#4FD291","#46D3A0","#3AD4AE","#2ED5BE"]},"legend":null}}},
{"mark":{"type":"rule","strokeDash":[2,3],"color":"#666666","strokeWidth":1},"encoding":{"x":{"datum":"h3","type":"ordinal","bandPosition":-0.22}}},
{"mark":{"type":"rule","strokeDash":[4,3],"color":"#777777","strokeWidth":1},"encoding":{"y":{"datum":"L3","type":"ordinal","bandPosition":-0.25}}}
]
},
{
"width":197,"height":460,
"view":{"fill":"white","stroke":"#2E6396","strokeWidth":3},
"layer":[
{"data":{"values":[{"t":"hue"},{"t":"L"}]},"mark":{"type":"point","opacity":0},
"encoding":{"color":{"field":"t","type":"nominal","scale":{"domain":["hue","L"],"range":["#F8766D","#00A6CC"]},"legend":{"title":"training","orient":"none","legendX":50,"legendY":14,"titleAnchor":"middle","titleFont":"Lato","titleFontSize":22,"titleFontWeight":"bold","titleColor":"black","titlePadding":8,"labelFont":"Liberation Sans","labelFontSize":17,"labelColor":"#1A1A1A","labelOffset":10,"labelExpr":"datum.label=='L'?'lightness':'hue'","symbolType":"M-1,-1L1,-1L1,1L-1,1Z M0.14,0A0.14,0.14,0,1,1,-0.14,0A0.14,0.14,0,1,1,0.14,0Z","symbolSize":400,"symbolOpacity":1,"symbolStrokeWidth":1.2,"rowPadding":18}}}},
{"data":{"values":[{"cx":"p < 0.05"},{"cx":"p < 0.01"}]},"mark":{"type":"point","opacity":0},
"encoding":{"shape":{"field":"cx","type":"nominal","scale":{"domain":["p < 0.05","p < 0.01"],"range":["M0.5,0A0.5,0.5,0,1,1,-0.5,0A0.5,0.5,0,1,1,0.5,0Z M0,-0.4L0,0.4 M-0.35,-0.2L0.35,0.2 M-0.35,0.2L0.35,-0.2","M0,0A0.5,0.5,0,1,1,-1,0A0.5,0.5,0,1,1,0,0Z M-0.5,-0.4L-0.5,0.4 M-0.85,-0.2L-0.15,0.2 M-0.85,0.2L-0.15,-0.2 M1,0A0.5,0.5,0,1,1,0,0A0.5,0.5,0,1,1,1,0Z M0.5,-0.4L0.5,0.4 M0.15,-0.2L0.85,0.2 M0.15,0.2L0.85,-0.2"]},"legend":{"title":["cross expt","differences:"],"orient":"none","legendX":34,"legendY":150,"titleAnchor":"middle","titleFont":"Lato","titleFontSize":22,"titleFontWeight":"bold","titleColor":"black","titleLineHeight":29,"titlePadding":6,"labelFont":"Lato","labelFontSize":17,"labelColor":"#1A1A1A","labelOffset":14,"symbolSize":784,"symbolStrokeColor":"black","symbolFillColor":"transparent","symbolStrokeWidth":1.2,"symbolOpacity":1,"rowPadding":8}}}},
{"data":{"values":[{"lg":"p < 0.05"},{"lg":"p < 0.01"}]},"mark":{"type":"point","opacity":0},
"encoding":{"shape":{"field":"lg","type":"nominal","scale":{"domain":["p < 0.05","p < 0.01"],"range":["M-1,1L0,0.15L1,1 M0,-1L0,-0.5 M-0.22,-0.875L0.22,-0.625 M-0.22,-0.625L0.22,-0.875","M-1,1L0,0.15L1,1 M-0.3,-1L-0.3,-0.5 M-0.52,-0.875L-0.08,-0.625 M-0.52,-0.625L-0.08,-0.875 M0.3,-1L0.3,-0.5 M0.08,-0.875L0.52,-0.625 M0.08,-0.625L0.52,-0.875"]},"legend":{"title":["learner group","differences:"],"orient":"none","legendX":30,"legendY":279,"titleAnchor":"middle","titleFont":"Lato","titleFontSize":22,"titleFontWeight":"bold","titleColor":"black","titleLineHeight":27,"titlePadding":8,"labelFont":"Lato","labelFontSize":17,"labelColor":"#1A1A1A","labelOffset":14,"symbolSize":1156,"symbolStrokeColor":"#2A6EBB","symbolFillColor":"transparent","symbolStrokeWidth":1.2,"symbolOpacity":1,"rowPadding":8}}}}
],
"resolve":{"scale":{"shape":"independent","color":"independent"},"legend":{"shape":"independent","color":"independent"}}
}
]
}
],
"spacing":8,
"resolve":{"scale":{"color":"independent","stroke":"independent","shape":"independent","x":"independent","y":"independent"},"legend":{"color":"independent","shape":"independent"}},
"config":{
"font":"Liberation Sans",
"view":{"fill":"#EBEBEB","stroke":null},
"axis":{"domain":false,"tickColor":"#333333","tickSize":4,"labelColor":"#4D4D4D","gridColor":"white","titleColor":"black","titleFontWeight":"bold","labelPadding":2},
"axisX":{"labelFontSize":16,"labelColor":"#1A1A1A"},
"axisY":{"labelFontSize":17},
"header":{"labelFont":"Liberation Sans","titleFont":"Liberation Sans"}
}
}
